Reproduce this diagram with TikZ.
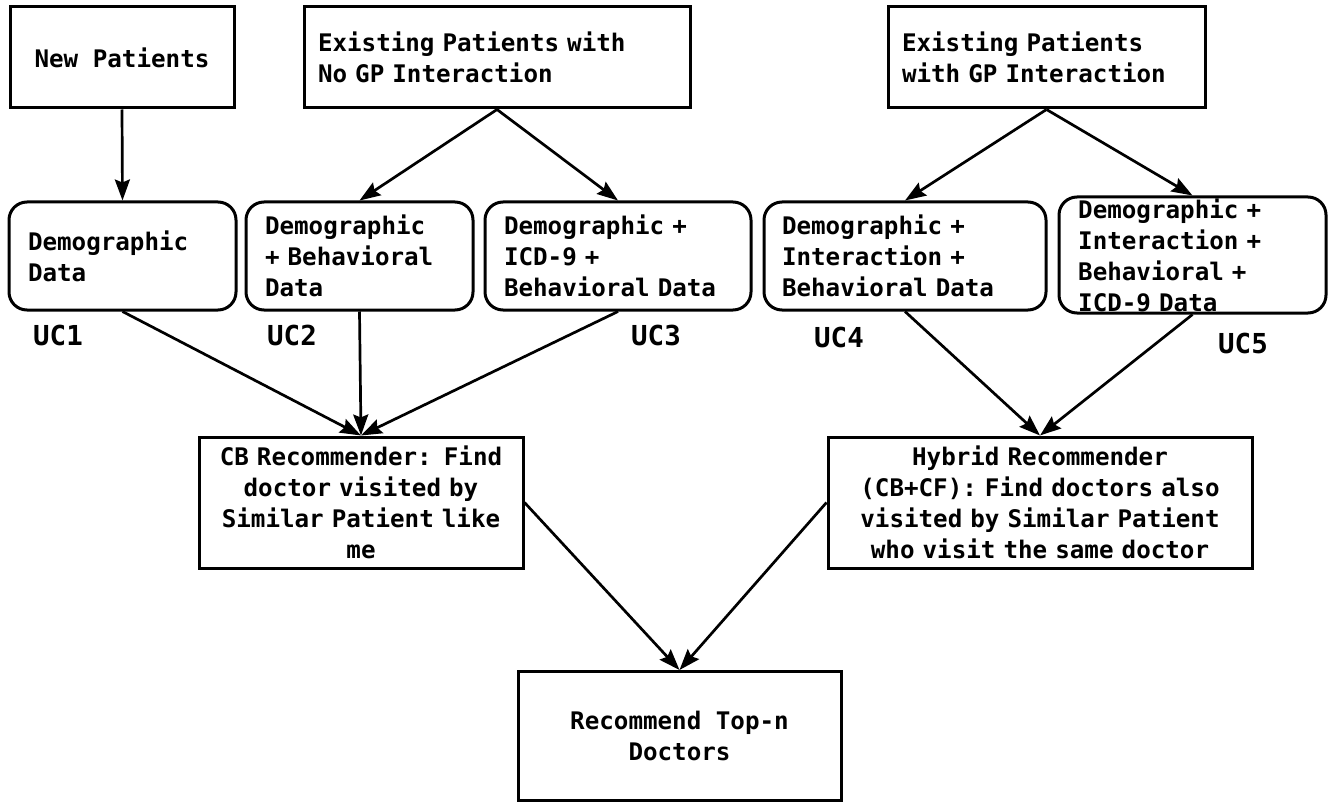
\documentclass[tikz,border=0pt]{standalone}
\usepackage{fontspec}
\newfontfamily\monofont{DejaVu Sans Mono}[WordSpace={1,0,0}]
\usetikzlibrary{arrows.meta}
\newcommand{\boxfont}{\monofont\bfseries\fontsize{24.2}{31}\selectfont\fontdimen2\font=14.57pt\fontdimen3\font=0pt\fontdimen4\font=0pt}
\newcommand{\ucfont}{\monofont\bfseries\fontsize{27.5}{31}\selectfont}
\begin{document}
\begin{tikzpicture}[x=1pt,y=-1pt,
  every node/.style={font=\boxfont},
  rectbox/.style={draw,line width=3pt,inner xsep=14pt,inner ysep=0pt},
  roundbox/.style={draw,line width=3pt,rounded corners=18pt,inner xsep=19pt,inner ysep=0pt,
    minimum height=108pt,align=left},
  ucl/.style={font=\ucfont,inner sep=0pt},
  arr/.style={line width=2.7pt,-{Stealth[length=21pt,width=15pt,inset=3pt]}}]
\useasboundingbox (0,0) rectangle (1332,802);
% top row
\node[rectbox,minimum width=224pt,minimum height=101pt,align=center] (np) at (122,57.5) {New Patients};
\node[rectbox,minimum width=386pt,minimum height=101pt,text width=358pt,align=left] (ex1) at (497,57.5)
  {Existing Patients with\\No GP Interaction};
\node[rectbox,minimum width=317pt,minimum height=101pt,text width=289pt,align=left] (ex2) at (1046.5,57.5)
  {Existing Patients\\with GP Interaction};
% second row
\node[roundbox,minimum width=227pt,text width=189pt] (uc1b) at (122.5,256) {Demographic\\Data};
\node[roundbox,minimum width=227pt,text width=189pt] (uc2b) at (359.5,256) {Demographic\\+ Behavioral\\Data};
\node[roundbox,minimum width=266pt,text width=228pt] (uc3b) at (618,256) {Demographic +\\ICD-9 +\\Behavioral Data};
\node[roundbox,minimum width=282pt,text width=246pt,inner xsep=18pt] (uc4b) at (905,256) {Demographic +\\Interaction +\\Behavioral Data};
\node[draw,line width=3pt,rounded corners=18pt,minimum width=267pt,minimum height=116pt,inner sep=0pt] (uc5b) at (1192.5,255) {};
\node[anchor=north west,inner sep=0pt,text width=229pt,align=left] (uc5t) at (1078,199)
  {Demographic +\\Interaction +\\Behavioral +\\ICD-9 Data};
% labels
\node[ucl] (uc1l) at (58,335) {UC1};
\node[ucl] (uc2l) at (292,335) {UC2};
\node[ucl] (uc3l) at (656,335) {UC3};
\node[ucl] (uc4l) at (839,337) {UC4};
\node[ucl] (uc5l) at (1243,343) {UC5};
% third row
\node[rectbox,inner xsep=10pt,minimum width=324pt,minimum height=131pt,text width=304pt,align=center] (cb) at (361,502.5)
  {CB Recommender: Find\\doctor visited by\\Similar Patient like\\me};
\node[rectbox,inner xsep=10pt,minimum width=424pt,minimum height=131pt,text width=404pt,align=center] (hy) at (1040,502.5)
  {Hybrid Recommender\\(CB+CF): Find doctors also\\visited by Similar Patient\\who visit the same doctor};
% bottom
\node[rectbox,minimum width=323pt,minimum height=129pt,align=center] (rec) at (679.5,736)
  {Recommend Top-n\\Doctors};
% arrows
\draw[arr] (np.south) -- (uc1b.north);
\draw[arr] (ex1.south) -- (uc2b.north);
\draw[arr] (ex1.south) -- (uc3b.north);
\draw[arr] (ex2.south) -- (uc4b.north);
\draw[arr] (ex2.south) -- (uc5b.north);
\draw[arr] (uc1b.south) -- (cb.north);
\draw[arr] (uc2b.south) -- (cb.north);
\draw[arr] (uc3b.south) -- (cb.north);
\draw[arr] (uc4b.south) -- (hy.north);
\draw[arr] (uc5b.south) -- (hy.north);
\draw[arr] (cb.east) -- (rec.north);
\draw[arr] (hy.west) -- (rec.north);
\end{tikzpicture}
\end{document}
